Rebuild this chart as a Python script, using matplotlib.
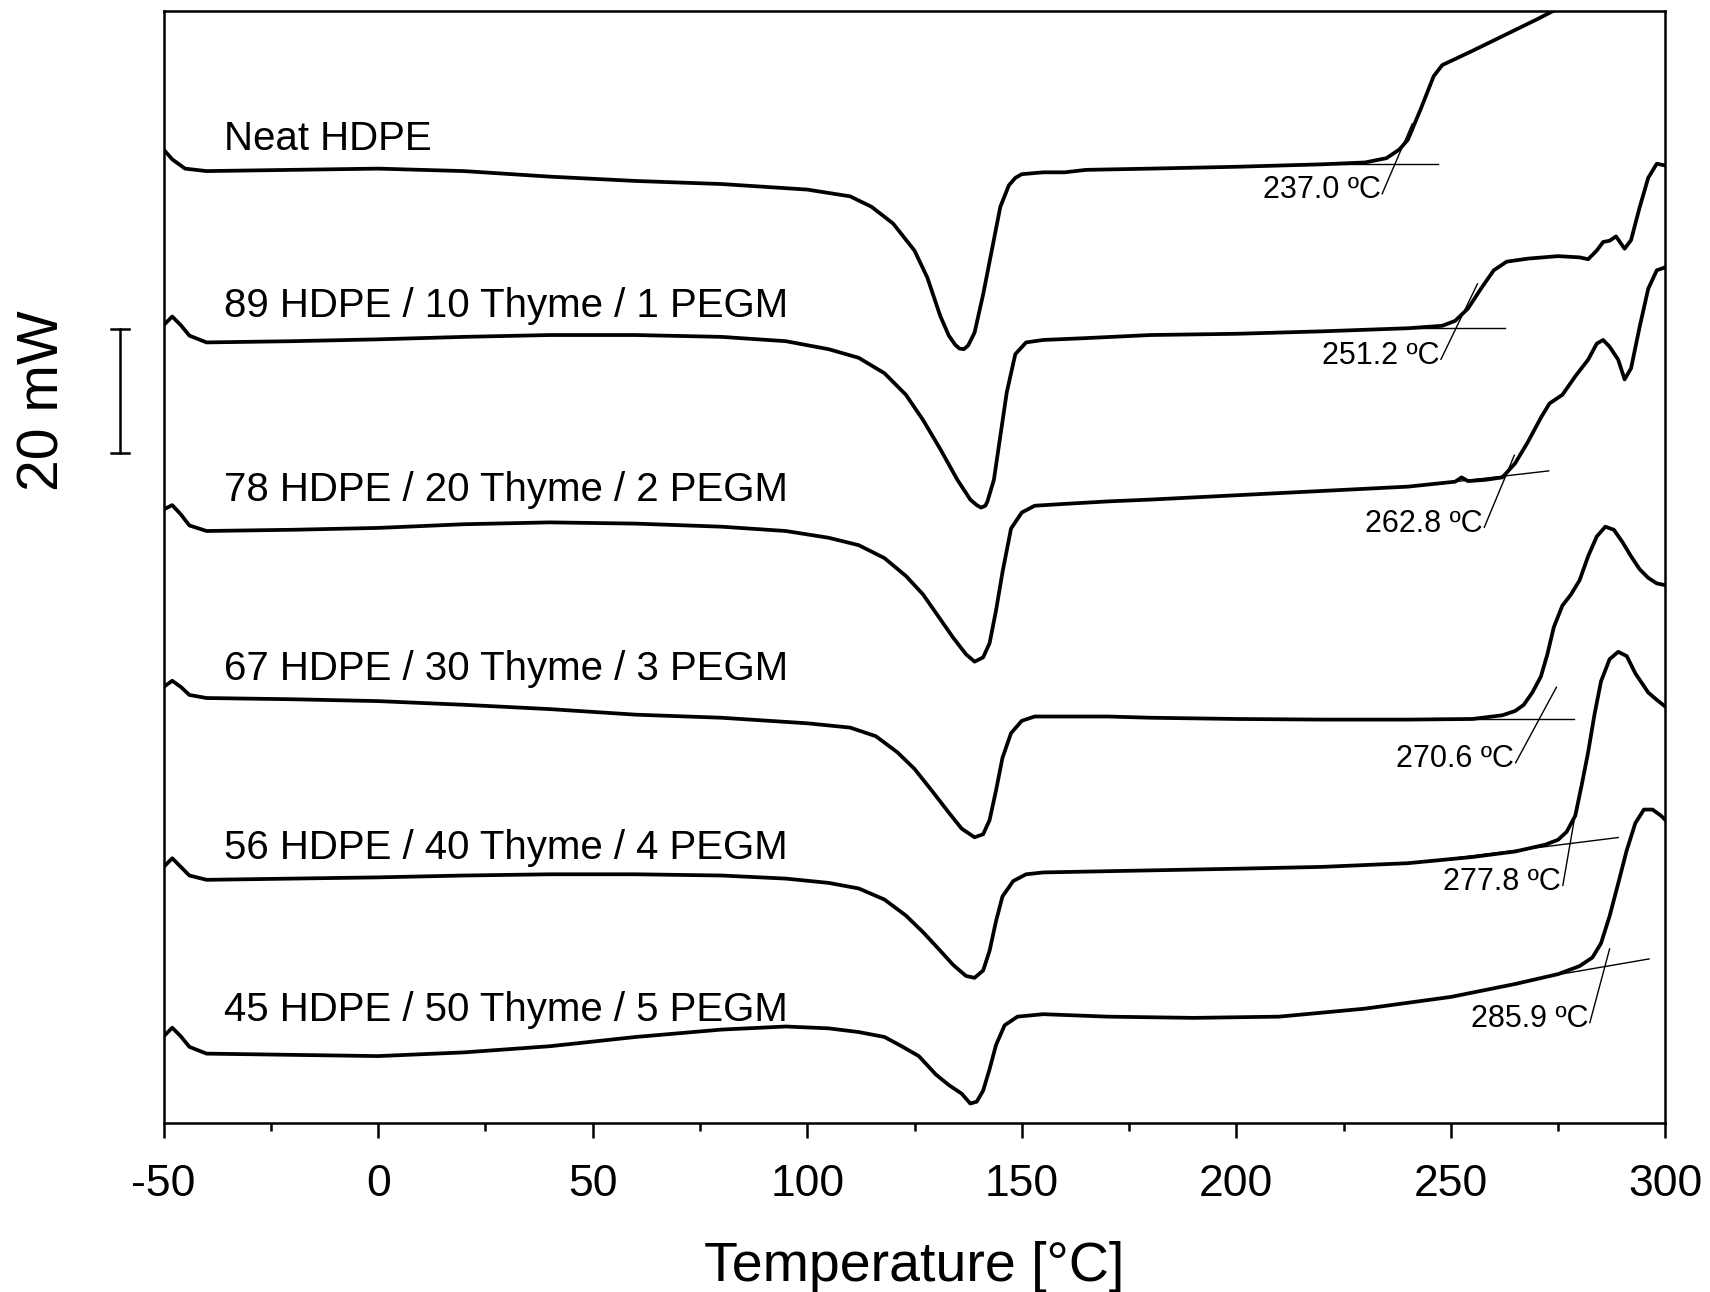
import numpy as np
import matplotlib
matplotlib.use("Agg")
import matplotlib.pyplot as plt
import matplotlib.transforms as mtransforms
from matplotlib.ticker import MultipleLocator

plt.rcParams['font.family'] = ['Liberation Sans', 'DejaVu Sans']
plt.rcParams['axes.unicode_minus'] = False

# sample names (top to bottom)
labels = ["Neat HDPE",
          "89 HDPE / 10 Thyme / 1 PEGM",
          "78 HDPE / 20 Thyme / 2 PEGM",
          "67 HDPE / 30 Thyme / 3 PEGM",
          "56 HDPE / 40 Thyme / 4 PEGM",
          "45 HDPE / 50 Thyme / 5 PEGM"]

# heat flow, mW relative to each curve's baseline at -40 C
temp_neat = [-50, -48, -45, -40, -20, 0, 20, 40, 60, 80, 100, 110, 115, 120, 125, 128, 131, 133,
             134.5, 135.5, 136.5, 137.5, 139, 141, 143, 145, 147, 148.5, 150, 155, 160, 165, 180,
             200, 220, 230, 235, 238, 240, 243, 246, 248, 255, 270, 275, 300]
hf_neat = [3.5, 1.9, 0.4, 0, 0.2, 0.4, 0, -0.9, -1.6, -2.1, -3.0, -4.1, -5.8, -8.5, -12.9, -17.3,
           -23.5, -26.7, -28.2, -28.8, -28.9, -28.3, -26.2, -20.0, -12.9, -5.8, -2.3, -1.1, -0.5,
           -0.2, -0.2, 0.2, 0.4, 0.7, 1.1, 1.4, 2.1, 3.5, 5.1, 10.1, 15.4, 17.2, 19.5, 24.6, 26.4,
           34.9]

temp_10 = [-50, -48, -46, -44, -40, -20, 0, 20, 40, 60, 80, 95, 105, 112, 118, 123, 127, 131, 135,
           138, 139.5, 140.5, 141.5, 142, 143.5, 145, 146.5, 148.5, 151, 155, 165, 180, 200, 220,
           240, 248, 251, 254, 257, 260, 263, 268, 275, 280, 282, 284, 285.5, 287, 288.5, 290.5,
           292, 294, 296, 298, 300]
hf_10 = [2.8, 4.2, 2.8, 1.1, 0, 0.2, 0.5, 0.9, 1.2, 1.2, 0.9, 0.2, -1.1, -2.5, -5.0, -8.5, -12.6,
         -17.3, -22.3, -25.5, -26.4, -26.8, -26.5, -25.8, -22.3, -15.2, -8.1, -1.9, 0, 0.4, 0.7,
         1.2, 1.4, 1.8, 2.3, 2.7, 3.5, 5.5, 8.7, 11.7, 13.1, 13.6, 14.0, 13.8, 13.5, 14.9, 16.3,
         16.5, 17.2, 15.2, 16.6, 21.9, 26.7, 29.0, 28.7]

temp_20 = [-50, -48, -46, -44, -40, -20, 0, 20, 40, 60, 80, 95, 105, 112, 118, 123, 127, 131, 134,
           137, 139, 141, 142.5, 144, 145.5, 147.5, 150, 153, 160, 170, 180, 200, 220, 240, 251,
           252.5, 254, 258, 262, 265, 268, 271, 273, 276, 279, 282, 284, 285.5, 287, 289, 290.5,
           292, 294, 296, 298, 300]
hf_20 = [3.5, 4.2, 2.7, 0.9, 0, 0.2, 0.5, 1.1, 1.4, 1.2, 0.7, 0, -1.1, -2.3, -4.4, -7.3, -10.3,
         -14.3, -17.3, -20.0, -21.2, -20.5, -18.2, -12.9, -6.7, 0.4, 3.0, 4.1, 4.4, 4.8, 5.1, 5.8,
         6.5, 7.2, 8.0, 8.7, 8.1, 8.3, 8.7, 11.0, 14.5, 18.4, 20.7, 22.1, 25.1, 27.8, 30.4, 31.0,
         29.9, 27.8, 24.6, 26.4, 33.1, 39.3, 42.3, 42.8]

temp_30 = [-50, -48, -46, -44, -40, -20, 0, 20, 40, 60, 80, 100, 110, 116, 121, 125, 129, 133, 136,
           139, 141, 142.5, 144, 145.5, 147.5, 150, 153, 160, 170, 180, 200, 220, 240, 255, 262,
           265, 267, 269, 271, 272.5, 274, 276, 278, 280, 282, 284, 286, 288, 290, 292, 294, 296,
           298, 300]
hf_30 = [1.8, 2.8, 1.8, 0.5, 0, -0.2, -0.5, -1.1, -1.8, -2.7, -3.2, -4.1, -4.8, -6.2, -8.8, -11.5,
         -15.0, -18.6, -21.2, -22.6, -22.1, -19.8, -15.0, -9.7, -5.7, -3.7, -3.0, -3.0, -3.0, -3.2,
         -3.4, -3.5, -3.5, -3.4, -2.8, -2.1, -1.1, 0.9, 3.5, 7.1, 11.5, 15.0, 16.8, 19.1, 23.0,
         26.2, 27.8, 27.3, 25.3, 23.0, 20.9, 19.5, 18.6, 18.3]

temp_40 = [-50, -48, -46, -44, -40, -20, 0, 20, 40, 60, 80, 95, 105, 112, 118, 123, 127, 131, 134,
           137, 139, 141, 142.5, 144, 145.5, 148, 151, 155, 170, 200, 220, 240, 255, 265, 272, 275,
           277, 279, 280.5, 282, 283.5, 285, 287, 289, 291, 293, 296, 298, 300]
hf_40 = [2.1, 3.5, 2.1, 0.7, 0, 0.2, 0.4, 0.7, 0.9, 0.9, 0.7, 0.2, -0.5, -1.4, -3.2, -5.8, -8.5,
         -11.5, -13.8, -15.6, -15.9, -14.7, -11.5, -6.7, -2.7, -0.2, 0.9, 1.2, 1.4, 1.8, 2.1, 2.7,
         3.7, 4.6, 5.7, 6.5, 7.8, 10.4, 15.4, 20.7, 26.9, 32.2, 35.8, 37.0, 36.3, 33.5, 30.4, 29.2,
         28.1]

temp_50 = [-50, -48, -46, -44, -40, -20, 0, 20, 40, 60, 80, 95, 105, 112, 118, 122, 126, 130, 133,
           136, 138, 139.5, 141, 142.5, 144, 146, 149, 155, 170, 190, 210, 230, 250, 265, 275, 280,
           283, 285, 287, 289, 291, 293, 295, 297, 299, 300]
hf_50 = [2.8, 4.2, 2.8, 1.1, 0, -0.2, -0.4, 0.2, 1.2, 2.7, 3.9, 4.4, 4.1, 3.5, 2.7, 1.2, -0.4, -3.4,
         -5.1, -6.5, -8.1, -7.8, -6.0, -2.5, 1.4, 4.6, 6.0, 6.4, 6.0, 5.8, 6.0, 7.3, 9.2, 11.3, 12.9,
         14.2, 15.6, 17.9, 22.3, 27.6, 33.0, 37.4, 39.6, 39.6, 38.6, 37.9]

temps = [temp_neat, temp_10, temp_20, temp_30, temp_40, temp_50]
flows = [hf_neat, hf_10, hf_20, hf_30, hf_40, hf_50]
offsets = [154.5, 126.7, 96.1, 69.0, 39.5, 11.3]  # vertical shift of each curve (mW)
label_lift = [3.4, 4.2, 4.8, 3.0, 3.3, 5.3]       # name baseline above the curve offset (mW)

# onset construction (degradation onset)
onset_t = [237.0, 251.2, 262.8, 270.6, 277.8, 285.9]
base_from = [223, 240, 250, 252.5, 245, 273]
base_to = [247, 262.6, 272.8, 278.6, 289, 296.2]
base_slope = [0.0, 0.0, 0.08, 0.0, 0.087, 0.12]
tan_slope = [1.62, 1.44, 1.67, 1.29, 4.0, 2.6]
tan_below = [3, 3.5, 5, 5.5, 1.7, 3.5]
tan_above = [4, 5, 2, 4, 1.5, 1.1]

fig = plt.figure(figsize=(17.1, 12.92), dpi=100)
ax = fig.add_axes([0.0957, 0.1306, 0.8782, 0.8610])

for i in range(len(labels)):
    t = np.array(temps[i], dtype=float)
    y = np.array(flows[i]) + offsets[i]
    ax.plot(t, y, color='black', lw=2.7, solid_joinstyle='round', solid_capstyle='round')
    ax.text(-36, offsets[i] + label_lift[i], labels[i],
            fontsize=29, ha='left', va='baseline')

    # baseline extension and tangent
    y0 = np.interp(base_from[i], t, y)
    bx = np.array([base_from[i], base_to[i]])
    ax.plot(bx, y0 + base_slope[i] * (bx - base_from[i]), color='black', lw=1.0)
    yon = y0 + base_slope[i] * (onset_t[i] - base_from[i])
    tx = np.array([onset_t[i] - tan_below[i], onset_t[i] + tan_above[i]])
    ty = yon + tan_slope[i] * (tx - onset_t[i])
    ax.plot(tx, ty, color='black', lw=1.0)
    ax.text(tx[0] - 0.4, ty[0] + 0.6, f"{onset_t[i]:.1f} ºC", fontsize=22,
            ha='right', va='center')

ax.set_xlim(-50, 300)
ax.set_ylim(0, 180.5)
ax.xaxis.set_major_locator(MultipleLocator(50))
ax.xaxis.set_minor_locator(MultipleLocator(25))
ax.set_yticks([])
ax.tick_params(axis='x', which='major', direction='out', length=11, width=1.8,
               labelsize=32, pad=18)
ax.tick_params(axis='x', which='minor', direction='out', length=6, width=1.8)
for s in ax.spines.values():
    s.set_linewidth(1.8)
ax.set_xlabel("Temperature [°C]", fontsize=40, labelpad=26)

# 20 mW scale bar
trans = mtransforms.blended_transform_factory(ax.transAxes, ax.transData)
bar_lo, bar_hi = 108.8, 128.8
ax.plot([-0.029, -0.029], [bar_lo, bar_hi], color='black', lw=1.8, transform=trans, clip_on=False)
for yb in (bar_lo, bar_hi):
    ax.plot([-0.035, -0.023], [yb, yb], color='black', lw=1.8, transform=trans, clip_on=False)
ax.text(-0.080, 117.2, "20 mW", rotation=90, fontsize=41,
        ha='center', va='center', transform=trans)

fig.savefig("out.png", dpi=100)
